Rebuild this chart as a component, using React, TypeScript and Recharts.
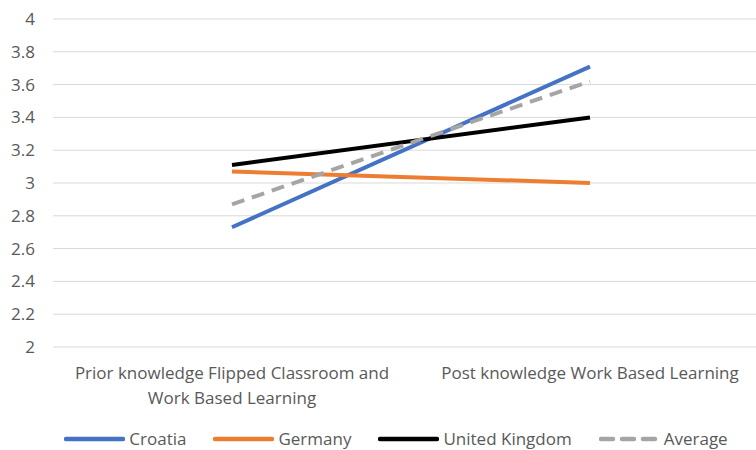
import { LineChart, Line, XAxis, YAxis, CartesianGrid, Legend } from 'recharts'

const categories = [
  'Prior knowledge Flipped Classroom and Work Based Learning',
  'Post knowledge Work Based Learning',
]
const croatia = [2.73, 3.71]
const germany = [3.07, 3.0]
const unitedKingdom = [3.11, 3.4]
const average = [2.87, 3.62]
const yTicks = [2, 2.2, 2.4, 2.6, 2.8, 3, 3.2, 3.4, 3.6, 3.8, 4]

const data = categories.map((name, i) => ({
  name,
  Croatia: croatia[i],
  Germany: germany[i],
  'United Kingdom': unitedKingdom[i],
  Average: average[i],
}))

const FONT = '"Open Sans", "Noto Sans", sans-serif'
const TEXT = '#595959'

const series = [
  { key: 'Croatia', color: '#4472C4', dash: undefined },
  { key: 'Germany', color: '#ED7D31', dash: undefined },
  { key: 'United Kingdom', color: '#000000', dash: undefined },
  { key: 'Average', color: '#A5A5A5', dash: '13 8' },
]

function wrap(label: string, max: number) {
  const lines: string[] = []
  let cur = ''
  for (const w of label.split(' ')) {
    const next = cur ? cur + ' ' + w : w
    if (next.length > max && cur) {
      lines.push(cur)
      cur = w
    } else cur = next
  }
  if (cur) lines.push(cur)
  return lines
}

function CategoryTick(props: any) {
  const { x, y, payload } = props
  const lines = wrap(payload.value, 37)
  return (
    <text x={x} y={y} textAnchor="middle" fill={TEXT} fontSize={17} fontFamily={FONT}>
      {lines.map((l, i) => (
        <tspan key={i} x={x} dy={i === 0 ? 24 : 25}>{l}</tspan>
      ))}
    </text>
  )
}

function LegendContent() {
  return (
    <div style={{ display: 'flex', justifyContent: 'center', gap: 27, fontFamily: FONT, fontSize: 17, color: TEXT, paddingLeft: 36 }}>
      {series.map(s => (
        <div key={s.key} style={{ display: 'flex', alignItems: 'center' }}>
          <svg width={61} height={10} style={{ marginRight: 4 }}>
            <line x1={2} y1={5} x2={59} y2={5} stroke={s.color} strokeWidth={4.5}
              strokeLinecap="round" strokeDasharray={s.dash ? '12 9' : undefined} />
          </svg>
          <span>{s.key}</span>
        </div>
      ))}
    </div>
  )
}

export default function App() {
  return (
    <div style={{ position: 'absolute', left: 0, top: 0, width: 756, height: 450, overflow: 'hidden', background: '#fff' }}>
      <LineChart width={770} height={450} data={data} margin={{ top: 19, right: 1, left: 0, bottom: 0 }}>
        <CartesianGrid vertical={false} stroke="#D9D9D9" strokeWidth={1} />
        <XAxis dataKey="name" axisLine={false} tickLine={false} height={77} interval={0}
          padding={{ left: 179, right: 179 }} tick={<CategoryTick />} />
        <YAxis domain={[2, 4]} ticks={yTicks} axisLine={false} tickLine={false} tickSize={0} tickMargin={18} width={53}
          tick={{ fill: TEXT, fontSize: 17, fontFamily: FONT }} />
        <Legend verticalAlign="bottom" content={<LegendContent />}
          wrapperStyle={{ left: 0, width: 756, top: 427, bottom: 'auto', height: 26 }} />
        {series.map(s => (
          <Line key={s.key} dataKey={s.key} stroke={s.color} strokeWidth={4} strokeDasharray={s.dash}
            dot={false} activeDot={false} isAnimationActive={false} />
        ))}
      </LineChart>
    </div>
  )
}
